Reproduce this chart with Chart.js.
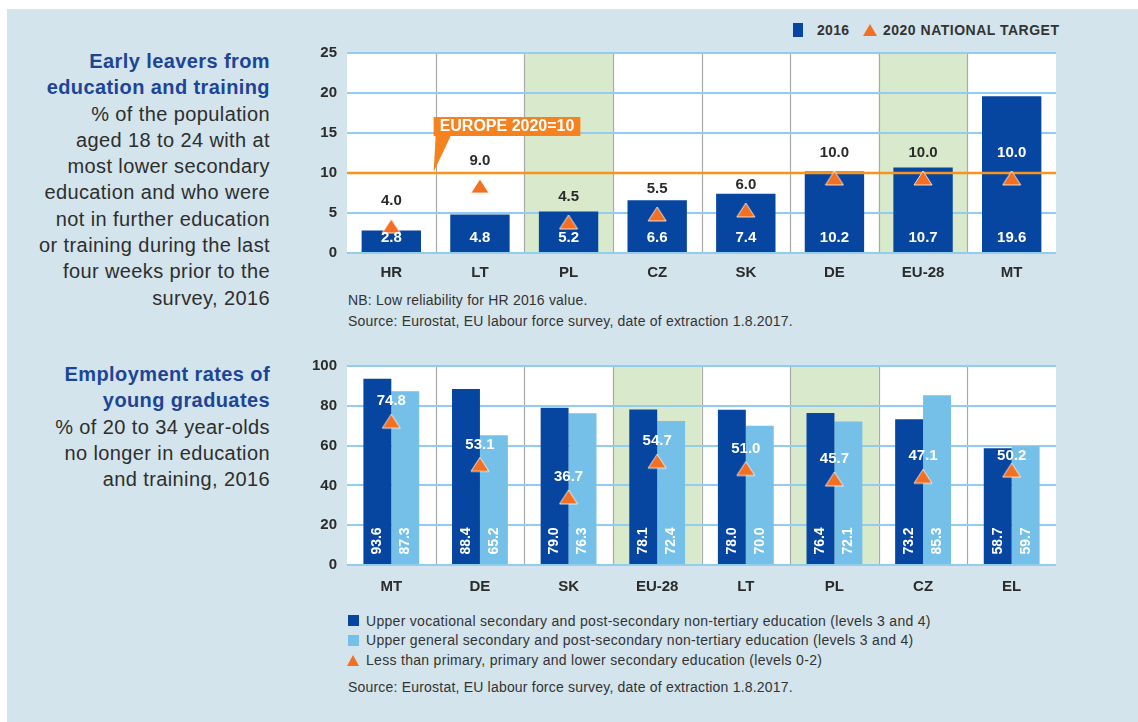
<!DOCTYPE html>
<html>
<head>
<meta charset="utf-8">
<script src="https://cdn.jsdelivr.net/npm/chart.js@4.4.0/dist/chart.umd.min.js"></script>
<style>
  body { margin: 0; width: 1138px; height: 722px; position: relative; background: #fff; overflow: hidden;
         font-family: "Liberation Sans", Arial, sans-serif; color: #2b2b2b; }
  #panel { position: absolute; left: 7px; top: 9px; right: 0; bottom: 0; background: #d3e4ec; }
  .side { position: absolute; right: 868px; text-align: right; font-size: 20px; line-height: 26.3px;
          letter-spacing: 0.4px; white-space: nowrap; color: #2e2e2e; }
  .side b { color: #1d4597; }
  .note { position: absolute; left: 348px; font-size: 14px; line-height: 16px; letter-spacing: 0.2px;
          white-space: nowrap; color: #333; }
  .leg { position: absolute; font-size: 14px; line-height: 16px; letter-spacing: 0.3px; white-space: nowrap; color: #333; }
  .sq { position: absolute; width: 11px; height: 11px; }
  .tri { position: absolute; width: 0; height: 0; border-left: 6px solid transparent;
         border-right: 6px solid transparent; border-bottom: 11px solid #f36f21; }
  .box { position: absolute; }
</style>
</head>
<body>
<div id="panel"></div>

<div class="side" style="top:48px">
  <b>Early leavers from</b><br>
  <b>education and training</b><br>
  % of the population<br>
  aged 18 to 24 with at<br>
  most lower secondary<br>
  education and who were<br>
  not in further education<br>
  or training during the last<br>
  four weeks prior to the<br>
  survey, 2016
</div>

<div class="side" style="top:361px">
  <b>Employment rates of</b><br>
  <b>young graduates</b><br>
  % of 20 to 34 year-olds<br>
  no longer in education<br>
  and training, 2016
</div>

<!-- top legend -->
<div class="sq" style="left:793px;top:23px;width:10px;height:14px;background:#0645a0"></div>
<div class="leg" style="left:817px;top:22px;font-weight:bold">2016</div>
<div class="tri" style="left:863px;top:24px;border-left-width:7px;border-right-width:7px;border-bottom-width:12px"></div>
<div class="leg" style="left:883px;top:22px;font-weight:bold;letter-spacing:0.5px">2020 NATIONAL TARGET</div>

<div class="box" style="left:300px;top:34px"><canvas id="leavers" width="767" height="256"></canvas></div>

<div class="note" style="top:292px">NB: Low reliability for HR 2016 value.</div>
<div class="note" style="top:313px">Source: Eurostat, EU labour force survey, date of extraction 1.8.2017.</div>

<div class="box" style="left:300px;top:347px"><canvas id="grads" width="767" height="253"></canvas></div>

<!-- bottom legend -->
<div class="sq" style="left:348px;top:615px;background:#0645a0"></div>
<div class="leg" style="left:366px;top:613px">Upper vocational secondary and post-secondary non-tertiary education (levels 3 and 4)</div>
<div class="sq" style="left:348px;top:635px;background:#74c0e8"></div>
<div class="leg" style="left:366px;top:632px">Upper general secondary and post-secondary non-tertiary education (levels 3 and 4)</div>
<div class="tri" style="left:347px;top:655px"></div>
<div class="leg" style="left:366px;top:652px">Less than primary, primary and lower secondary education (levels 0-2)</div>
<div class="note" style="top:679px">Source: Eurostat, EU labour force survey, date of extraction 1.8.2017.</div>

<script>
// early leavers, 2016
const leaverCountries = ["HR", "LT", "PL", "CZ", "SK", "DE", "EU-28", "MT"];
const leavers2016 = [2.8, 4.8, 5.2, 6.6, 7.4, 10.2, 10.7, 19.6];
const nationalTarget = [4.0, 9.0, 4.5, 5.5, 6.0, 10.0, 10.0, 10.0];
const leaverTicks = [0, 5, 10, 15, 20, 25];
const europeTarget = 10;
const leaverHighlight = ["PL", "EU-28"];

// employment rates of young graduates, 2016
const gradCountries = ["MT", "DE", "SK", "EU-28", "LT", "PL", "CZ", "EL"];
const gradVocational = [93.6, 88.4, 79.0, 78.1, 78.0, 76.4, 73.2, 58.7];
const gradGeneral = [87.3, 65.2, 76.3, 72.4, 70.0, 72.1, 85.3, 59.7];
const gradLower = [74.8, 53.1, 36.7, 54.7, 51.0, 45.7, 47.1, 50.2];
const gradTicks = [0, 20, 40, 60, 80, 100];
const gradHighlight = ["EU-28", "PL"];

const DARK = "#0645a0";
const LIGHT = "#74c0e8";
const ORANGE = "#f36f21";
const FONT = "Liberation Sans";

// marker: triangle hanging just under its value, like the print version
function triangleMarker(w, h) {
  const c = document.createElement("canvas");
  c.width = w;
  c.height = h * 2 + 6;
  const g = c.getContext("2d");
  const top = c.height / 2 - 2;
  g.beginPath();
  g.moveTo(w / 2, top);
  g.lineTo(w - 1, top + h);
  g.lineTo(1, top + h);
  g.closePath();
  g.fillStyle = ORANGE;
  g.fill();
  g.strokeStyle = "rgba(255,255,255,0.8)";
  g.lineWidth = 1;
  g.stroke();
  return c;
}
const marker = triangleMarker(20, 14);

// white plot, green columns and grey separators
const panelPlugin = {
  id: "panel",
  beforeDraw(chart, args, opts) {
    const ctx = chart.ctx;
    const a = chart.chartArea;
    const x = chart.scales.x;
    const n = chart.data.labels.length;
    const step = (a.right - a.left) / n;
    ctx.save();
    ctx.fillStyle = "#fff";
    ctx.fillRect(a.left, a.top, a.right - a.left, a.bottom - a.top);
    chart.data.labels.forEach((lab, i) => {
      if (opts.highlight.includes(lab)) {
        ctx.fillStyle = "#d9eacc";
        ctx.fillRect(x.getPixelForValue(i) - step / 2, a.top, step, a.bottom - a.top);
      }
    });
    ctx.strokeStyle = "#a9a9a9";
    ctx.lineWidth = 1.2;
    for (let i = 1; i < n; i++) {
      const px = Math.round(x.getPixelForValue(i) - step / 2) + 0.5;
      ctx.beginPath();
      ctx.moveTo(px, a.top);
      ctx.lineTo(px, a.bottom);
      ctx.stroke();
    }
    ctx.restore();
  }
};

// Europe 2020 line and its callout, drawn over bars but under triangles
const europePlugin = {
  id: "europe",
  afterDatasetDraw(chart, args) {
    if (args.meta.type !== "bar") return;
    const ctx = chart.ctx;
    const a = chart.chartArea;
    const x = chart.scales.x;
    const y = chart.scales.y;
    const ly = y.getPixelForValue(europeTarget);
    ctx.save();
    ctx.strokeStyle = "#f7941d";
    ctx.lineWidth = 2.5;
    ctx.beginPath();
    ctx.moveTo(a.left, ly);
    ctx.lineTo(a.right, ly);
    ctx.stroke();

    const step = (a.right - a.left) / chart.data.labels.length;
    const left = x.getPixelForValue(0) + step / 2 - 2;
    const text = "EUROPE 2020=" + europeTarget;
    ctx.font = "bold 16px " + FONT;
    const w = ctx.measureText(text).width + 12;
    const bottom = ly - 37;
    ctx.fillStyle = "#f5821f";
    ctx.fillRect(left, bottom - 19, w, 19);
    ctx.beginPath();
    ctx.moveTo(left + 2, bottom);
    ctx.lineTo(left + 17, bottom);
    ctx.lineTo(left, ly - 1);
    ctx.closePath();
    ctx.fill();
    ctx.fillStyle = "#fff";
    ctx.textAlign = "left";
    ctx.textBaseline = "middle";
    ctx.fillText(text, left + 6, bottom - 9);
    ctx.restore();
  }
};

const leaverLabels = {
  id: "leaverLabels",
  afterDatasetsDraw(chart) {
    const ctx = chart.ctx;
    const pts = chart.getDatasetMeta(0).data;
    const bars = chart.getDatasetMeta(1).data;
    ctx.save();
    ctx.font = "bold 15px " + FONT;
    ctx.textAlign = "center";
    ctx.textBaseline = "middle";
    bars.forEach((b, i) => {
      ctx.fillStyle = "#fff";
      ctx.fillText(leavers2016[i].toFixed(1), b.x, b.base - 14);
      const ly = pts[i].y - 20;
      ctx.fillStyle = ly > b.y + 6 ? "#fff" : "#2b2b2b";
      ctx.fillText(nationalTarget[i].toFixed(1), pts[i].x, ly);
    });
    ctx.restore();
  }
};

const gradLabels = {
  id: "gradLabels",
  afterDatasetsDraw(chart) {
    const ctx = chart.ctx;
    const pts = chart.getDatasetMeta(0).data;
    const light = chart.getDatasetMeta(2).data;
    const series = [gradVocational, gradGeneral];
    ctx.save();
    ctx.font = "bold 14px " + FONT;
    ctx.textAlign = "center";
    ctx.textBaseline = "middle";
    ctx.fillStyle = "#fff";
    [1, 2].forEach((d, k) => {
      chart.getDatasetMeta(d).data.forEach((b, i) => {
        ctx.save();
        ctx.translate(b.x, b.base - 23);
        ctx.rotate(-Math.PI / 2);
        ctx.fillText(series[k][i].toFixed(1), 0, 0);
        ctx.restore();
      });
    });
    // white value sits above the triangle but stays on the bars
    ctx.font = "bold 15px " + FONT;
    pts.forEach((p, i) => {
      const ly = Math.max(p.y - 15, light[i].y + 10);
      ctx.fillText(gradLower[i].toFixed(1), p.x, ly);
    });
    ctx.restore();
  }
};

function axes(ticks, xHeight, pad) {
  return {
    x: {
      grid: { display: false },
      border: { display: false },
      ticks: { color: "#2b2b2b", font: { family: FONT, size: 15, weight: "bold" }, padding: pad },
      afterFit: s => { s.height = xHeight; }
    },
    y: {
      min: ticks[0],
      max: ticks[ticks.length - 1],
      afterBuildTicks: s => { s.ticks = ticks.map(v => ({ value: v })); },
      grid: { color: "#92cdf0", lineWidth: 2, drawTicks: false },
      border: { display: false },
      ticks: { color: "#2b2b2b", font: { family: FONT, size: 15, weight: "bold" }, padding: 10 },
      afterFit: s => { s.width = 47; }
    }
  };
}

const triangle = {
  type: "line",
  showLine: false,
  pointStyle: marker,
  pointRadius: 10,
  order: 0
};

new Chart(document.getElementById("leavers"), {
  type: "bar",
  data: {
    labels: leaverCountries,
    datasets: [
      Object.assign({ label: "2020 national target", data: nationalTarget }, triangle),
      {
        label: "2016",
        data: leavers2016,
        backgroundColor: DARK,
        categoryPercentage: 1,
        barPercentage: 0.67,
        order: 1
      }
    ]
  },
  options: {
    responsive: false,
    animation: false,
    layout: { padding: { top: 6, right: 4, left: 0, bottom: 0 } },
    plugins: {
      legend: { display: false },
      tooltip: { enabled: false },
      panel: { highlight: leaverHighlight }
    },
    scales: axes(leaverTicks, 37, 3)
  },
  plugins: [panelPlugin, europePlugin, leaverLabels]
});

new Chart(document.getElementById("grads"), {
  type: "bar",
  data: {
    labels: gradCountries,
    datasets: [
      Object.assign({ label: "Less than primary, primary and lower secondary", data: gradLower }, triangle),
      {
        label: "Upper vocational secondary",
        data: gradVocational,
        backgroundColor: DARK,
        categoryPercentage: 0.63,
        barPercentage: 1,
        order: 1
      },
      {
        label: "Upper general secondary",
        data: gradGeneral,
        backgroundColor: LIGHT,
        categoryPercentage: 0.63,
        barPercentage: 1,
        order: 1
      }
    ]
  },
  options: {
    responsive: false,
    animation: false,
    layout: { padding: { top: 12, right: 4, left: 0, bottom: 0 } },
    plugins: {
      legend: { display: false },
      tooltip: { enabled: false },
      panel: { highlight: gradHighlight }
    },
    scales: axes(gradTicks, 35, 5)
  },
  plugins: [panelPlugin, gradLabels]
});
</script>
</body>
</html>
